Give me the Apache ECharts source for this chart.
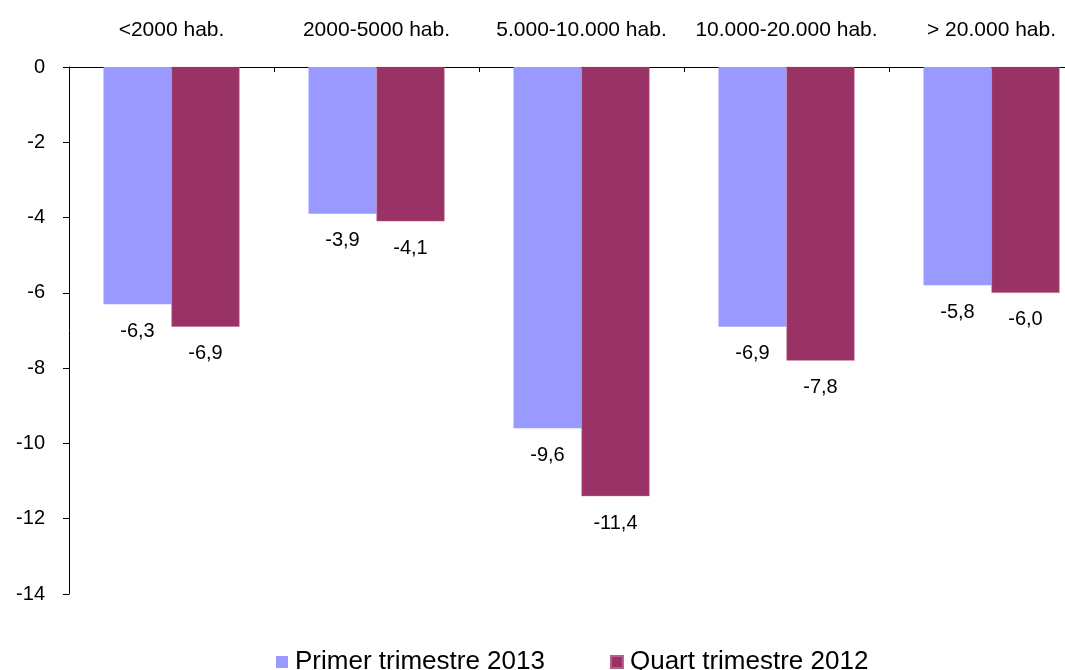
<!DOCTYPE html>
<html>
<head>
<meta charset="utf-8">
<script src="https://cdn.jsdelivr.net/npm/echarts@6/dist/echarts.min.js"></script>
<style>html,body{margin:0;padding:0;background:#fff;}#c{width:1065px;height:670px;}</style>
</head>
<body>
<div id="c"></div>
<script>
const categories = ['<2000 hab.', '2000-5000 hab.', '5.000-10.000 hab.', '10.000-20.000 hab.', '> 20.000 hab.'];
const seriesNames = ['Primer trimestre 2013', 'Quart trimestre 2012'];
const primer2013 = [-6.3, -3.9, -9.6, -6.9, -5.8];
const quart2012 = [-6.9, -4.1, -11.4, -7.8, -6.0];

const chart = echarts.init(document.getElementById('c'));
const font = 'Liberation Sans, Arial, sans-serif';
const lbl = {
  show: true,
  position: 'bottom',
  distance: 17,
  fontSize: 20,
  fontFamily: font,
  color: '#000',
  formatter: p => p.value.toFixed(1).replace('.', ',')
};
chart.setOption({
  animation: false,
  backgroundColor: '#fff',
  textStyle: { fontFamily: font },
  grid: { left: 69, top: 67, width: 1025, height: 527, containLabel: false, outerBoundsMode: 'none' },
  legend: {
    left: 271, top: 644,
    itemWidth: 12, itemHeight: 12, itemGap: 65,
    icon: 'rect',
    textStyle: { fontSize: 26, fontFamily: font, color: '#000', padding: [5, 0, 0, 2] },
    data: seriesNames
  },
  xAxis: {
    type: 'category',
    position: 'top',
    data: categories,
    axisLine: { lineStyle: { color: '#000', width: 1 } },
    axisTick: { show: true, inside: true, length: 5, lineStyle: { color: '#000' } },
    axisLabel: { fontSize: 21, fontFamily: font, color: '#000', margin: 26, interval: 0, hideOverlap: false },
    splitLine: { show: false }
  },
  yAxis: {
    type: 'value',
    min: -14, max: 0, interval: 2,
    axisLine: { show: true, lineStyle: { color: '#000', width: 1 } },
    axisTick: { show: true, length: 6, lineStyle: { color: '#000' } },
    axisLabel: { fontSize: 20, fontFamily: font, color: '#000', margin: 24 },
    splitLine: { show: false }
  },
  series: [
    { name: seriesNames[0], type: 'bar', data: primer2013, barWidth: 68, barGap: '0%',
      itemStyle: { color: '#9999FF' }, label: lbl },
    { name: seriesNames[1], type: 'bar', data: quart2012, barWidth: 68, barGap: '0%',
      itemStyle: { color: '#993366', borderColor: '#B8608A', borderWidth: 0.5 }, label: lbl }
  ]
});
</script>
</body>
</html>
